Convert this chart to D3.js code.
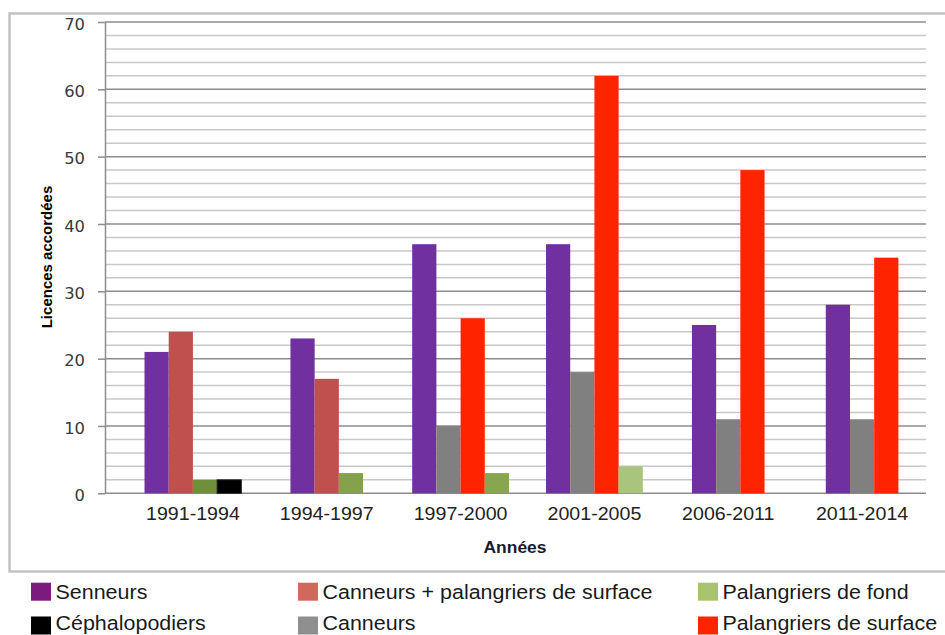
<!DOCTYPE html>
<html>
<head>
<meta charset="utf-8">
<script src="https://cdn.jsdelivr.net/npm/d3@7/dist/d3.min.js"></script>
<style>
  html, body { margin: 0; padding: 0; background: #fff; }
  svg { display: block; }
</style>
</head>
<body>
<svg id="chart" width="945" height="635"></svg>
<script>
// Licences accordées par période et par type de navire
const periods = ["1991-1994", "1994-1997", "1997-2000", "2001-2005", "2006-2011", "2011-2014"];
const seriesNames = ["Senneurs", "Canneurs + palangriers de surface", "Palangriers de fond",
                     "Céphalopodiers", "Canneurs", "Palangriers de surface"];
const senneurs            = [21, 23, 37, 37, 25, 28];
const canneursPalangriers = [24, 17, 0, 0, 0, 0];
const palangriersFond     = [2, 3, 3, 4, 0, 0];
const cephalopodiers      = [2, 0, 0, 0, 0, 0];
const canneurs            = [0, 0, 10, 18, 11, 11];
const palangriersSurface  = [0, 0, 26, 62, 48, 35];
const yTicks = [0, 10, 20, 30, 40, 50, 60, 70];

const seriesValues = [senneurs, canneursPalangriers, palangriersFond, cephalopodiers, canneurs, palangriersSurface];
const barColors    = ["#7030a0", "#c0504d", "#86a24d", "#000000", "#808080", "#ff2400"];
const legendColors = ["#7b1b7e", "#d0695b", "#a9c46f", "#000000", "#8f8f8f", "#ff2400"];
// the bottom-longline bars are drawn in a slightly different green in each period
const fondShades   = ["#718e3b", "#84a14c", "#88a64f", "#a9c47c", "#a9c47c", "#a9c47c"];
// order in which the bars of a period are placed side by side
const barOrder = [0, 1, 4, 5, 2, 3];

const svg = d3.select("#chart");
const STRETCH = 1.09;
const plot = { left: 105, right: 926, top: 22, bottom: 493.3 };

// outer frame
svg.append("rect")
  .attr("x", 9.5).attr("y", 13.5)
  .attr("width", 960).attr("height", 558)
  .attr("fill", "none").attr("stroke", "#c2c2c2").attr("stroke-width", 2.5);

const y = d3.scaleLinear().domain([0, 70]).range([plot.bottom, plot.top]);
const x = d3.scaleBand().domain(periods).range([126, 929]).padding(0);
const barW = 24.2;

// grid: minor every 2, major every 10
const minor = d3.range(0, 71, 2).filter(v => v % 10 !== 0);
svg.append("g").selectAll("line").data(minor).join("line")
  .attr("x1", plot.left).attr("x2", plot.right)
  .attr("y1", d => y(d)).attr("y2", d => y(d))
  .attr("stroke", "#c8c8c8").attr("stroke-width", 1.5);
svg.append("g").selectAll("line").data(yTicks).join("line")
  .attr("x1", plot.left).attr("x2", plot.right)
  .attr("y1", d => y(d)).attr("y2", d => y(d))
  .attr("stroke", "#8c8c8c").attr("stroke-width", 1.5);

// y axis
const yAxis = svg.append("g")
  .attr("transform", `translate(${plot.left},0)`)
  .call(d3.axisLeft(y).tickValues(yTicks).tickSize(7).tickSizeOuter(0).tickPadding(11.35));
yAxis.select(".domain").attr("stroke", "#8c8c8c").attr("stroke-width", 1.5);
yAxis.selectAll(".tick line").attr("stroke", "#8c8c8c").attr("stroke-width", 1.5);
yAxis.selectAll(".tick text")
  .attr("dy", "0.47em")
  .attr("transform", `scale(${STRETCH},1)`)
  .attr("fill", "#3a3a3a")
  .style("font-family", "'DejaVu Sans', Verdana, sans-serif")
  .style("font-size", "15px");

// bars
const groups = periods.map((p, i) => {
  const present = barOrder.filter(s => seriesValues[s][i] > 0);
  const start = x(p) + x.bandwidth() / 2 - present.length * barW / 2;
  return present.map((s, k) => ({
    period: p, series: s, value: seriesValues[s][i],
    x0: start + k * barW,
    color: s === 2 ? fondShades[i] : barColors[s]
  }));
}).flat();

svg.append("g").selectAll("rect").data(groups).join("rect")
  .attr("x", d => d.x0)
  .attr("width", barW)
  .attr("y", d => y(d.value))
  .attr("height", d => y(0) - y(d.value))
  .attr("fill", d => d.color)
  .attr("stroke", d => d.series === 3 ? "#222" : "none")
  .attr("stroke-width", 1);

// x axis
const xAxis = svg.append("g")
  .attr("transform", `translate(0,${plot.bottom})`)
  .call(d3.axisBottom(x).tickSize(0).tickPadding(13.9));
xAxis.select(".domain").remove();
xAxis.selectAll(".tick text")
  .attr("transform", `scale(${STRETCH},1)`)
  .attr("fill", "#222")
  .style("font-family", "'Liberation Sans', Arial, sans-serif")
  .style("font-size", "18px");

// axis titles
svg.append("text")
  .attr("transform", "translate(52.3,257) rotate(-90)")
  .attr("text-anchor", "middle")
  .style("font-family", "'Liberation Sans', Arial, sans-serif")
  .style("font-size", "15px").style("font-weight", "bold")
  .attr("fill", "#000")
  .text("Licences accordées");

svg.append("g").attr("transform", "translate(515,553)")
  .append("text")
  .attr("transform", `scale(${STRETCH},1)`)
  .attr("text-anchor", "middle")
  .style("font-family", "'Liberation Sans', Arial, sans-serif")
  .style("font-size", "16px").style("font-weight", "bold")
  .attr("fill", "#1a1a2a")
  .text("Années");

// legend: three columns, two rows
const legendCols = [31, 298, 698];
const legendRows = [{ swatch: 582.7, base: 599.3 }, { swatch: 616.5, base: 630.3 }];
const legendItems = seriesNames.map((name, i) => ({
  name, color: legendColors[i],
  col: i % 3, row: Math.floor(i / 3)
}));
const lg = svg.append("g").selectAll("g").data(legendItems).join("g");
lg.append("rect")
  .attr("x", d => legendCols[d.col])
  .attr("y", d => legendRows[d.row].swatch)
  .attr("width", 20).attr("height", 18)
  .attr("fill", d => d.color);
lg.append("g")
  .attr("transform", d => `translate(${legendCols[d.col] + 24.5},${legendRows[d.row].base})`)
  .append("text")
  .attr("transform", `scale(${STRETCH},1)`)
  .style("font-family", "'Liberation Sans', Arial, sans-serif")
  .style("font-size", "19.7px")
  .attr("fill", "#1a1a1a")
  .text(d => d.name);
</script>
</body>
</html>
